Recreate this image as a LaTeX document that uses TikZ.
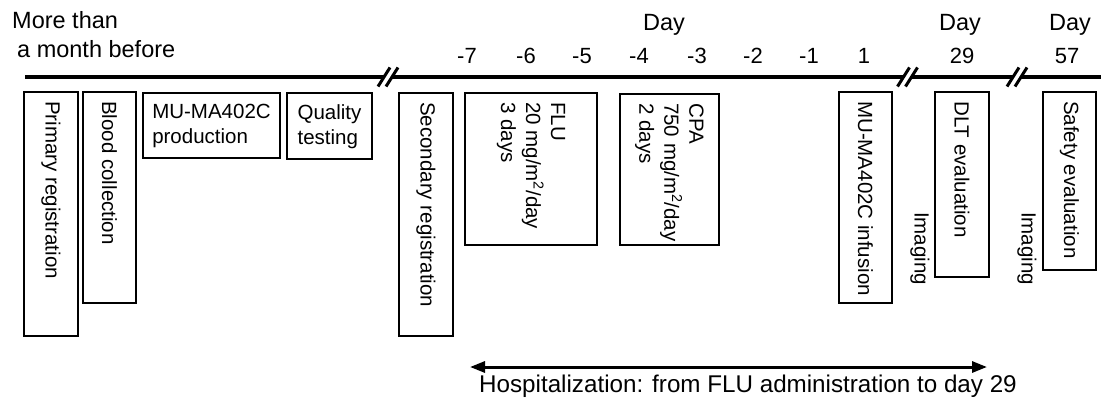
\documentclass[tikz,border=0pt]{standalone}
\usepackage{fontspec}
\setmainfont{Liberation Sans}
\usetikzlibrary{arrows.meta,calc}
\begin{document}
\begin{tikzpicture}[x=1pt,y=-1pt,
  box/.style={draw, line width=2pt, inner sep=0pt, anchor=north west},
  vtext/.style={rotate=-90, anchor=west, inner sep=0pt, align=left, font=\fontsize{20.5}{25}\selectfont},
  htext/.style={inner sep=0pt, align=left, anchor=north, font=\fontsize{20.5}{25}\selectfont},
  lbl/.style={font=\fontsize{23.5}{28}\selectfont, inner sep=0pt},
  ticklbl/.style={font=\fontsize{22}{26}\selectfont, inner sep=0pt, anchor=base},
  tline/.style={line width=4.5pt},
  brk/.style={line width=3pt},
  harrow/.style={line width=3pt, {Triangle[length=15pt,width=11pt]}-{Triangle[length=15pt,width=11pt]}}]
\useasboundingbox (0,0) rectangle (1101,407);

% header labels
\node[lbl, anchor=base west] (more) at (12,28) {More than};
\node[lbl, anchor=base west] (month) at (17,57) {a month before};
\node[lbl, anchor=base] (day) at (664,30) {Day};
\node[lbl, anchor=base] (day29) at (960,30) {Day};
\node[lbl, anchor=base] (day57) at (1070,30) {Day};

% tick labels
\node[ticklbl] (tm7) at (467,63) {-7};
\node[ticklbl] (tm6) at (526,63) {-6};
\node[ticklbl] (tm5) at (582,63) {-5};
\node[ticklbl] (tm4) at (639,63) {-4};
\node[ticklbl] (tm3) at (697,63) {-3};
\node[ticklbl] (tm2) at (753,63) {-2};
\node[ticklbl] (tm1) at (809,63) {-1};
\node[ticklbl] (t1) at (864,63) {1};
\node[ticklbl] (t29) at (962,63) {29};
\node[ticklbl] (t57) at (1067,63) {57};

% timeline with breaks
\coordinate (L0) at (25,77);
\coordinate (b1a) at (384,77);
\coordinate (b1b) at (392,77);
\coordinate (b2a) at (903.5,77);
\coordinate (b2b) at (911.5,77);
\coordinate (b3a) at (1013,77);
\coordinate (b3b) at (1021,77);
\coordinate (R0) at (1101,77);
\draw[tline] (L0) -- (b1a);
\draw[tline] (b1b) -- (b2a);
\draw[tline] (b2b) -- (b3a);
\draw[tline] (b3b) -- (R0);
\foreach \c in {b1a,b1b,b2a,b2b,b3a,b3b}{
  \draw[brk] ($(\c)+(-6,9.5)$) -- ($(\c)+(6,-9.5)$);
}

% boxes
\node[box, minimum width=54pt, minimum height=244pt] (prim) at (23,91) {};
\node[box, minimum width=53pt, minimum height=211pt] (blood) at (82,91) {};
\node[box, minimum width=137pt, minimum height=65pt] (prod) at (142,92) {};
\node[box, minimum width=85pt, minimum height=66pt] (qual) at (286,92) {};
\node[box, minimum width=54pt, minimum height=243pt] (sec) at (398,92) {};
\node[box, minimum width=132pt, minimum height=152pt] (flu) at (464,92) {};
\node[box, minimum width=99pt, minimum height=151pt] (cpa) at (619,93) {};
\node[box, minimum width=53pt, minimum height=211pt] (inf) at (838,91) {};
\node[box, minimum width=54pt, minimum height=185pt] (dlt) at (934,91) {};
\node[box, minimum width=53pt, minimum height=178pt] (saf) at (1042,91) {};

% box texts
\node[vtext] (primT) at ([yshift=-10pt]prim.north) {Primary registration};
\node[vtext] (bloodT) at ([yshift=-10pt]blood.north) {Blood collection};
\node[htext] (prodT) at ([yshift=-12pt]prod.north) {MU-MA402C\\production};
\node[htext] (qualT) at ([yshift=-12pt]qual.north) {Quality\\testing};
\node[vtext] (secT) at ([yshift=-10pt]sec.north) {Secondary registration};
\node[vtext] (fluT) at ([yshift=-10pt]flu.north) {FLU\\20 mg/m\textsuperscript{2}/day\\3 days};
\node[vtext] (cpaT) at ([yshift=-10pt]cpa.north) {CPA\\750 mg/m\textsuperscript{2}/day\\2 days};
\node[vtext] (infT) at ([yshift=-10pt]inf.north) {MU-MA402C infusion};
\node[vtext] (dltT) at ([yshift=-10pt]dlt.north) {DLT evaluation};
\node[vtext] (safT) at ([yshift=-10pt]saf.north) {Safety evaluation};
\node[vtext] (img1) at (920,212) {Imaging};
\node[vtext] (img2) at (1027,212) {Imaging};

% hospitalization
\coordinate (hL) at (470,367);
\coordinate (hR) at (987,367);
\draw[harrow] (hL) -- (hR);
\node[font=\fontsize{24.2}{29}\selectfont, inner sep=0pt, anchor=base west] (hosp) at (479,392) {Hospitalization: from FLU administration to day 29};
\end{tikzpicture}
\end{document}
